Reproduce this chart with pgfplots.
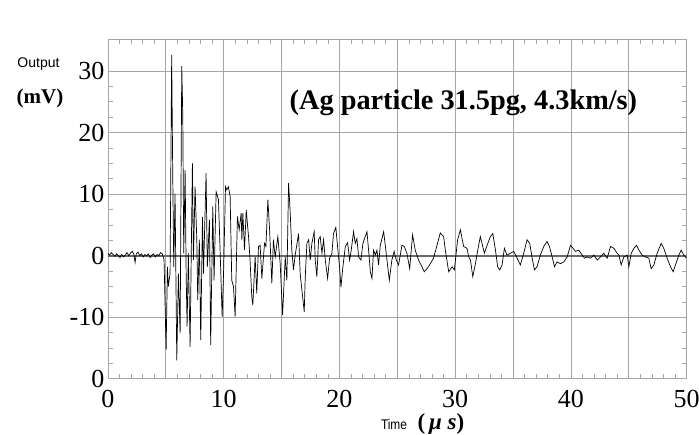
\documentclass[border=0pt]{standalone}
\usepackage{pgfplots}
\pgfplotsset{compat=1.18}
\usepackage{fontspec}
\setmainfont{Liberation Serif}
\newfontfamily\arialfont{Liberation Sans}
\definecolor{gridgray}{RGB}{165,165,165}
\definecolor{zerogray}{RGB}{105,105,105}
\pgfplotstableread{
t v
0.00 0.4
0.15 0.1
0.30 0.5
0.45 0.2
0.60 -0.1
0.75 0.3
0.90 0.0
1.05 -0.3
1.20 0.2
1.35 -0.2
1.50 0.1
1.65 0.5
1.80 0.0
1.95 0.4
2.10 0.7
2.25 0.2
2.35 -1.1
2.45 0.3
2.60 0.6
2.75 0.0
2.90 0.3
3.05 -0.2
3.20 0.2
3.35 0.0
3.50 0.3
3.65 -0.3
3.80 0.1
3.95 0.3
4.10 -0.2
4.25 0.2
4.40 0.0
4.55 0.5
4.70 0.3
4.85 -0.6
5.03 -15.3
5.14 -1.8
5.22 -5.0
5.37 -2.9
5.51 32.6
5.60 13.4
5.69 -1.8
5.80 10.1
5.95 -17.0
6.09 -2.9
6.24 -12.6
6.38 30.8
6.47 22.6
6.55 0.4
6.67 13.9
6.76 -2.9
6.84 -11.5
6.95 0.4
7.10 -14.8
7.30 15.0
7.39 -0.7
7.53 11.2
7.68 2.6
7.76 -7.2
7.90 2.6
8.02 -13.7
8.17 6.3
8.26 -2.9
8.48 13.4
8.59 -1.8
8.77 5.8
8.88 -14.5
9.06 8.0
9.17 -4.0
9.35 10.4
9.55 9.1
9.70 0.4
9.87 -9.9
9.99 -2.9
10.16 11.2
10.27 10.7
10.41 11.2
10.56 9.6
10.70 -4.0
10.85 -5.0
10.99 -9.9
11.19 6.4
11.34 4.2
11.51 6.9
11.57 2.6
11.66 6.9
11.80 0.9
11.95 7.4
12.15 3.1
12.28 -0.7
12.43 -6.7
12.52 -8.0
12.72 -0.2
12.86 -6.1
13.01 1.5
13.15 1.7
13.30 -3.7
13.53 2.0
13.65 1.5
13.82 9.1
13.97 4.2
14.16 -4.5
14.30 2.6
14.45 -0.2
14.68 3.1
14.88 -1.2
15.09 -9.6
15.32 -0.2
15.46 -4.0
15.61 11.8
15.75 6.9
15.89 0.9
16.03 -2.3
16.18 0.1
16.47 3.6
16.61 -2.9
16.76 -5.6
16.96 -9.1
17.05 -3.4
17.19 2.0
17.34 2.6
17.48 -0.7
17.62 2.0
17.82 3.9
17.91 -0.7
18.05 -3.4
18.20 2.6
18.34 3.1
18.49 0.4
18.63 2.6
18.78 -0.7
18.98 -3.7
19.15 -0.4
19.35 0.4
19.49 3.6
19.69 4.6
19.84 1.5
20.01 -1.8
20.13 -5.1
20.30 -1.8
20.51 1.5
20.71 2.1
20.88 -0.7
21.02 0.9
21.22 3.9
21.37 2.0
21.51 2.8
21.66 -0.2
21.86 -0.7
22.03 2.0
22.23 3.1
22.38 3.9
22.52 0.9
22.67 -2.6
22.81 -3.7
22.95 0.9
23.10 0.1
23.24 0.9
23.38 -1.5
23.53 1.7
23.82 3.9
24.11 -0.7
24.31 -4.0
24.53 -0.7
24.73 0.7
24.91 -0.7
25.11 -1.5
25.40 1.7
25.60 1.5
25.83 0.4
26.07 -2.1
26.32 3.4
26.55 0.9
26.84 -0.7
27.13 -1.8
27.33 -2.6
27.57 -2.1
27.85 -1.3
28.13 -0.4
28.43 1.7
28.71 3.7
29.00 3.1
29.15 0.9
29.44 -2.6
29.73 -1.8
29.93 -2.3
30.21 2.6
30.45 4.2
30.73 1.5
31.02 1.2
31.17 -0.2
31.32 -0.7
31.52 -3.4
31.75 -1.3
31.95 0.9
32.17 3.1
32.32 2.0
32.52 0.4
32.76 1.7
33.04 3.1
33.25 3.6
33.48 0.9
33.67 -1.8
33.85 -2.3
34.05 -1.5
34.25 1.2
34.48 0.1
34.77 0.4
35.06 0.7
35.35 -0.4
35.63 -1.5
35.92 0.4
36.21 2.6
36.44 2.0
36.65 -0.4
36.85 -2.3
37.07 -1.8
37.36 0.1
37.65 1.5
37.94 2.3
38.14 1.5
38.38 -0.2
38.58 -1.8
38.80 -1.0
39.09 -1.3
39.38 -1.0
39.67 -0.2
39.96 1.7
40.19 1.2
40.39 0.7
40.67 0.9
40.97 0.1
41.17 -0.4
41.40 -0.2
41.69 -0.4
41.98 0.1
42.27 -0.7
42.55 -0.2
42.84 0.4
43.13 -0.4
43.42 1.5
43.71 1.2
43.99 0.4
44.14 0.1
44.34 -1.5
44.57 -0.2
44.86 0.1
45.00 -1.8
45.21 0.4
45.44 1.2
45.67 1.7
45.87 0.9
46.15 0.1
46.44 -0.2
46.73 -0.4
46.93 -2.1
47.16 -1.5
47.45 0.4
47.79 2.0
48.02 1.2
48.31 -0.4
48.60 -1.8
48.83 -2.6
49.03 -1.5
49.32 0.1
49.52 0.9
49.75 0.1
49.98 -0.4
}\signal
\begin{document}
\begin{tikzpicture}[x=1pt,y=1pt]
\path[use as bounding box] (0,0) rectangle (699,435);
\begin{axis}[
  at={(107.9pt,56.1pt)}, anchor=south west,
  scale only axis, width=578.8pt, height=339.9pt,
  xmin=0, xmax=50, ymin=-20, ymax=35.19,
  xtick={0,5,...,50}, xticklabels={0,,10,,20,,30,,40,,50},
  ytick={-20,-10,0,10,20,30}, yticklabels={0,-10,0,10,20,30},
  minor x tick num=4, minor y tick num=3,
  major tick length=0pt, minor tick length=5pt,
  tick align=inside,
  grid=major, major grid style={gridgray, line width=0.8pt},
  axis line style={gridgray, line width=0.8pt},
  every tick/.style={gridgray, line width=0.6pt},
  tick label style={font=\fontsize{26}{28}\selectfont},
  /pgf/number format/assume math mode=true,
  xticklabel style={yshift=-8pt},
]
\addplot[zerogray, line width=1.6pt, forget plot] coordinates {(0,0) (50,0)};
\addplot[black, line width=0.7pt, mark=none] table[x=t, y=v] {\signal};
\end{axis}
\node[font=\arialfont\fontsize{14}{16}\selectfont] at (38.5,371) {Output};
\node[font=\bfseries\fontsize{21}{24}\selectfont] at (40,337) {(mV)};
\node[font=\bfseries\fontsize{28.3}{30}\selectfont, anchor=base] at (463.4,325) {(Ag particle 31.5pg, 4.3km/s)};
\node[font=\arialfont\fontsize{14}{16}\selectfont, xscale=0.85, anchor=base] at (394,5.5) {Time};
\node[font=\bfseries\fontsize{23}{25}\selectfont, anchor=base, inner sep=1pt] at (441,5.5) {(\,\textit{μ}\ \textit{s})};
\end{tikzpicture}
\end{document}
